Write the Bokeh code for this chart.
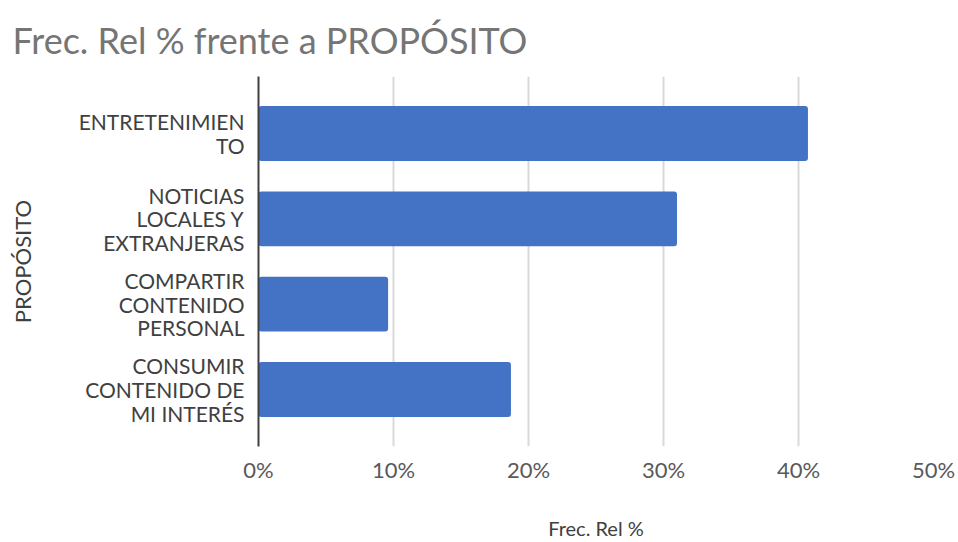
from bokeh.plotting import figure
from bokeh.models import ColumnDataSource, FactorRange, Range1d, FixedTicker, NumeralTickFormatter, Title
from bokeh.embed import file_html
from bokeh.resources import INLINE

# ---- data (top to bottom as shown) ----
categories = [
    "ENTRETENIMIEN\nTO",
    "NOTICIAS\nLOCALES Y\nEXTRANJERAS",
    "COMPARTIR\nCONTENIDO\nPERSONAL",
    "CONSUMIR\nCONTENIDO DE\nMI INTERÉS",
]
values = [0.407, 0.310, 0.096, 0.187]
x_ticks = [0, 0.1, 0.2, 0.3, 0.4, 0.5]

title_text = "Frec. Rel % frente a PROPÓSITO"
x_label = "Frec. Rel %"
y_label = "PROPÓSITO"

FONT = "Lato"

W, H = 958, 542
LEFT, RIGHT, TOP, BOTTOM = 258, 25, 76, 95

src = ColumnDataSource(dict(cat=categories, val=values))

p = figure(
    width=W, height=H,
    y_range=FactorRange(factors=list(reversed(categories)), range_padding=0.084, range_padding_units="percent"),
    x_range=Range1d(0, 0.5),
    output_backend="svg", toolbar_location=None,
    min_border_left=LEFT, min_border_right=RIGHT, min_border_top=TOP, min_border_bottom=BOTTOM,
)
p.title = None
t = Title(text=title_text, text_font=FONT, text_font_size="36px", text_font_style="normal",
          text_color="#757575", align="left", offset=-246, standoff=29, text_line_height=0.8)
p.add_layout(t, "above")

p.hbar(y="cat", right="val", left=0, height=0.642, source=src,
       fill_color="#4472C4", line_color=None, border_radius=3)

p.outline_line_color = None
p.background_fill_color = "white"
p.border_fill_color = "white"

# grid
p.ygrid.grid_line_color = None
p.xgrid.grid_line_color = "#d9d9d9"
p.xgrid.grid_line_width = 2
p.xgrid.ticker = FixedTicker(ticks=x_ticks)

# x axis
xa = p.xaxis[0]
xa.ticker = FixedTicker(ticks=x_ticks)
xa.formatter = NumeralTickFormatter(format="0%")
xa.axis_line_color = None
xa.major_tick_line_color = None
xa.minor_tick_line_color = None
xa.major_label_text_font = FONT
xa.major_label_text_font_size = "22px"
xa.major_label_text_color = "#595959"
xa.major_label_standoff = 3
xa.axis_label = x_label
xa.axis_label_text_font = FONT
xa.axis_label_text_font_size = "20px"
xa.axis_label_text_font_style = "normal"
xa.axis_label_text_color = "#404040"
xa.axis_label_standoff = 30

# y axis
ya = p.yaxis[0]
ya.axis_line_color = "#404040"
ya.axis_line_width = 2
ya.major_tick_line_color = None
ya.minor_tick_line_color = None
ya.major_label_text_font = FONT
ya.major_label_text_font_size = "21px"
ya.major_label_text_color = "#404040"
ya.major_label_text_line_height = 0.95
ya.major_label_standoff = 8
ya.axis_label = y_label
ya.axis_label_text_font = FONT
ya.axis_label_text_font_size = "22px"
ya.axis_label_text_font_style = "normal"
ya.axis_label_text_color = "#404040"
ya.axis_label_standoff = 40

open("out.html", "w").write(file_html(p, INLINE))
